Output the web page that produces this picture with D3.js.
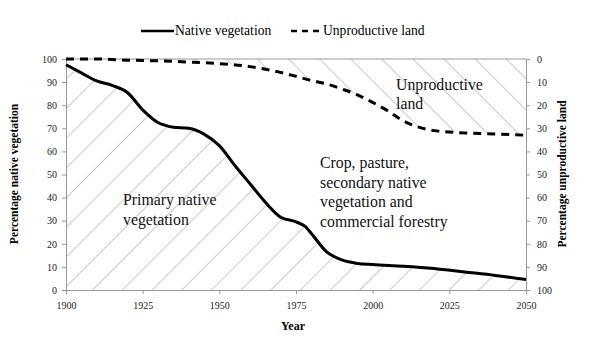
<!DOCTYPE html>
<html><head><meta charset="utf-8">
<script src="https://cdn.jsdelivr.net/npm/d3@7"></script>
<style>body{margin:0;background:#fff}svg{display:block}svg text{font-family:"Liberation Serif","Times New Roman",Times,serif !important}</style>
</head><body><svg id="c" width="600" height="361" font-family="Liberation Serif, serif"></svg>
<script>
const nativeYears = [1900,1905,1910,1915,1920,1925,1930,1935,1940,1945,1950,1955,1960,1965,1970,1975,1978,1980,1985,1990,1995,2000,2010,2020,2030,2040,2050];
const nativeVals  = [97.5,94,90.5,88.6,85.5,78,72.5,70.5,70,67.5,62.5,54,46,38,31.5,29.5,27.5,24.5,16.5,13,11.5,11,10.3,9.3,7.8,6.3,4.5];
const unprodYears = [1900,1910,1920,1930,1940,1950,1960,1970,1975,1980,1985,1990,1995,2000,2005,2010,2015,2020,2030,2040,2050];
const unprodVals  = [0,0,0.5,0.8,1.3,2,3.3,5.8,7.5,9.3,10.8,13,15.5,18.8,22.5,26.8,29.5,31,32,32.5,33];
const xTicks = [1900,1925,1950,1975,2000,2025,2050];
const leftTicks = [0,10,20,30,40,50,60,70,80,90,100];
const rightTicks = [0,10,20,30,40,50,60,70,80,90,100];

const svg = d3.select("#c");
const L=66,R=526,T=59,B=290;
const x = d3.scaleLinear().domain([1900,2050]).range([L,R]);
const yL = d3.scaleLinear().domain([0,100]).range([B,T]);
const yR = d3.scaleLinear().domain([0,100]).range([T,B]);
const nat = nativeYears.map((d,i)=>[d,nativeVals[i]]);
const unp = unprodYears.map((d,i)=>[d,unprodVals[i]]);

const defs = svg.append("defs");
const p1 = defs.append("pattern").attr("id","h1").attr("patternUnits","userSpaceOnUse")
  .attr("width",21).attr("height",21).attr("patternTransform","translate(92,290) rotate(45)");
p1.append("line").attr("x1",0).attr("y1",0).attr("x2",0).attr("y2",21).attr("stroke","#777").attr("stroke-width",0.8);
const p2 = defs.append("pattern").attr("id","h2").attr("patternUnits","userSpaceOnUse")
  .attr("width",22).attr("height",22).attr("patternTransform","translate(70,59) rotate(-45)");
p2.append("line").attr("x1",0).attr("y1",0).attr("x2",0).attr("y2",22).attr("stroke","#777").attr("stroke-width",0.8);

const curve = d3.curveMonotoneX;
svg.append("path").datum(nat)
  .attr("d", d3.area().x(d=>x(d[0])).y0(B).y1(d=>yL(d[1])).curve(curve))
  .attr("fill","url(#h1)");
svg.append("path").datum(unp)
  .attr("d", d3.area().x(d=>x(d[0])).y0(T).y1(d=>yR(d[1])).curve(curve))
  .attr("fill","url(#h2)");
svg.append("line").attr("x1",L).attr("x2",R).attr("y1",T).attr("y2",T).attr("stroke","#999").attr("stroke-width",1);

const gx = svg.append("g").attr("transform",`translate(0,${B})`)
  .call(d3.axisBottom(x).tickValues(xTicks).tickFormat(d3.format("d")).tickSize(4).tickSizeOuter(0));
const gl = svg.append("g").attr("transform",`translate(${L},0)`)
  .call(d3.axisLeft(yL).tickValues(leftTicks).tickSize(4).tickSizeOuter(0));
const gr = svg.append("g").attr("transform",`translate(${R},0)`)
  .call(d3.axisRight(yR).tickValues(rightTicks).tickSize(4).tickSizeOuter(0));
[gx,gl,gr].forEach(g=>{
  g.attr("font-family","Liberation Serif, serif");
  g.selectAll("path,line").attr("stroke","#999");
  g.selectAll("text").attr("fill","#222").style("font-size","10px");
});
gx.selectAll("text").attr("dy","1.2em");
gl.selectAll("text").attr("dx","-2");
gr.selectAll("text").attr("dx","4");

svg.append("path").datum(unp)
  .attr("d", d3.line().x(d=>x(d[0])).y(d=>yR(d[1])).curve(curve))
  .attr("fill","none").attr("stroke","#000").attr("stroke-width",3).attr("stroke-dasharray","8,6");
svg.append("path").datum(nat)
  .attr("d", d3.line().x(d=>x(d[0])).y(d=>yL(d[1])).curve(curve))
  .attr("fill","none").attr("stroke","#000").attr("stroke-width",3);

svg.append("line").attr("x1",141).attr("x2",174).attr("y1",31).attr("y2",31).attr("stroke","#000").attr("stroke-width",2.5);
svg.append("text").attr("x",175).attr("y",35).style("font-size","13.6px").text("Native vegetation");
svg.append("line").attr("x1",291).attr("x2",323).attr("y1",31).attr("y2",31).attr("stroke","#000").attr("stroke-width",2.5).attr("stroke-dasharray","6,5");
svg.append("text").attr("x",323).attr("y",35).style("font-size","13.6px").text("Unproductive land");

svg.append("text").attr("transform","translate(18,174) rotate(-90)").attr("text-anchor","middle")
  .style("font-size","11.5px").style("font-weight","bold").text("Percentage native vegetation");
svg.append("text").attr("transform","translate(566,174) rotate(-90)").attr("text-anchor","middle")
  .style("font-size","11.5px").style("font-weight","bold").text("Percentage unproductive land");
svg.append("text").attr("x",293).attr("y",330).attr("text-anchor","middle")
  .style("font-size","12px").style("font-weight","bold").text("Year");

const ann = (lines,x0,y0,lh)=>{
  const t = svg.append("text").attr("x",x0).attr("y",y0).style("font-size","15.8px").attr("fill","#111");
  lines.forEach((s,i)=>t.append("tspan").attr("x",x0).attr("dy",i?lh:0).text(s));
};
ann(["Unproductive","land"],396,90,19);
ann(["Crop, pasture,","secondary native","vegetation and","commercial forestry"],320,168,19.5);
ann(["Primary native","vegetation"],123,205,19.5);
</script></body></html>
